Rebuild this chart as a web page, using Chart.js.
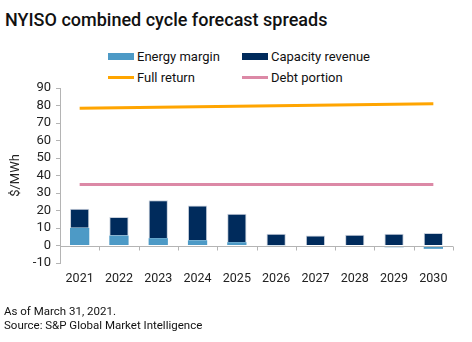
<!DOCTYPE html>
<html>
<head>
<meta charset="utf-8">
<script src="https://cdn.jsdelivr.net/npm/chart.js@4.4.1/dist/chart.umd.min.js"></script>
<style>
    body { margin: 0; background: #fff; font-family: Roboto, "Noto Sans", sans-serif; color: #111; }
    #wrap { position: relative; width: 472px; height: 342px; overflow: hidden; }
    #chart { position: absolute; left: 0; top: 0; }
    .title { position: absolute; left: 5px; top: 9px; font-size: 18px; font-weight: 500; white-space: nowrap; }
    .legend-item { position: absolute; font-size: 13px; white-space: nowrap; display: flex; align-items: center; }
    .swatch { display: inline-block; width: 26px; margin-right: 3px; }
    .note { position: absolute; left: 4px; font-size: 11.5px; white-space: nowrap; }
</style>
</head>
<body>
<div id="wrap">
    <div class="title">NYISO combined cycle forecast spreads</div>
    <div id="legend"></div>
    <canvas id="chart" width="472" height="342"></canvas>
    <div class="note" style="top:304px">As of March 31, 2021.</div>
    <div class="note" style="top:318px">Source: S&amp;P Global Market Intelligence</div>
</div>
<script>
// Chart data
const years = ['2021', '2022', '2023', '2024', '2025', '2026', '2027', '2028', '2029', '2030'];
const energyMargin = [10.1, 5.7, 4.2, 3.0, 1.9, 0.2, -0.3, -0.7, -1.0, -1.9];
const capacityRevenue = [10.9, 10.6, 21.7, 19.8, 16.3, 6.5, 5.7, 6.1, 6.7, 7.1];
const fullReturn = [78.4, 78.7, 79.0, 79.3, 79.6, 79.9, 80.2, 80.4, 80.7, 81.0];
const debtPortion = [34.8, 34.8, 34.8, 34.8, 34.8, 34.8, 34.8, 34.8, 34.8, 34.8];
const yTicks = { min: -10, max: 90, step: 10 };

const colors = {
    energy: '#4d9ac6',
    capacity: '#002b5c',
    full: '#ffa500',
    debt: '#dc89a6',
    axis: '#b4b4b4'
};

// Legend (HTML, two rows)
const legendItems = [
    { label: 'Energy margin', color: colors.energy, type: 'bar', x: 108, y: 49 },
    { label: 'Capacity revenue', color: colors.capacity, type: 'bar', x: 242, y: 49 },
    { label: 'Full return', color: colors.full, type: 'line', x: 108, y: 70 },
    { label: 'Debt portion', color: colors.debt, type: 'line', x: 242, y: 70 }
];
const legendEl = document.getElementById('legend');
legendItems.forEach(item => {
    const div = document.createElement('div');
    div.className = 'legend-item';
    div.style.left = item.x + 'px';
    div.style.top = item.y + 'px';
    const sw = document.createElement('span');
    sw.className = 'swatch';
    sw.style.background = item.color;
    sw.style.height = item.type === 'bar' ? '7px' : '3px';
    div.appendChild(sw);
    div.appendChild(document.createTextNode(item.label));
    legendEl.appendChild(div);
});

// Zero line with category tick marks hanging below it
const zeroAxisPlugin = {
    id: 'zeroAxis',
    afterDatasetsDraw(chart) {
        const { ctx, chartArea, scales } = chart;
        const y0 = Math.round(scales.y.getPixelForValue(0)) + 0.5;
        const half = (scales.x.getPixelForValue(1) - scales.x.getPixelForValue(0)) / 2;
        ctx.save();
        ctx.strokeStyle = colors.axis;
        ctx.lineWidth = 1;
        ctx.beginPath();
        ctx.moveTo(chartArea.left, y0);
        ctx.lineTo(chartArea.right, y0);
        for (let i = 0; i <= years.length; i++) {
            const x = Math.round(scales.x.getPixelForValue(i) - half) + 0.5;
            ctx.moveTo(x, y0);
            ctx.lineTo(x, y0 + 4);
        }
        ctx.stroke();
        ctx.restore();
    }
};

const ctx = document.getElementById('chart');
new Chart(ctx.getContext('2d'), {
    type: 'bar',
    data: {
        labels: years,
        datasets: [
            {
                label: 'Energy margin',
                data: energyMargin,
                backgroundColor: colors.energy,
                stack: 'bars',
                barPercentage: 0.49,
                categoryPercentage: 1
            },
            {
                label: 'Capacity revenue',
                data: capacityRevenue,
                backgroundColor: colors.capacity,
                borderColor: '#c9d1dd',
                borderWidth: { top: 1, left: 1, right: 1, bottom: 0 },
                borderSkipped: false,
                stack: 'bars',
                barPercentage: 0.49,
                categoryPercentage: 1
            },
            {
                type: 'line',
                label: 'Full return',
                data: fullReturn,
                borderColor: colors.full,
                borderWidth: 3,
                pointRadius: 0,
                stack: 'full'
            },
            {
                type: 'line',
                label: 'Debt portion',
                data: debtPortion,
                borderColor: colors.debt,
                borderWidth: 3,
                pointRadius: 0,
                stack: 'debt'
            }
        ]
    },
    options: {
        responsive: false,
        animation: false,
        layout: { padding: { top: 88, right: 19, bottom: 48, left: 8 } },
        plugins: {
            legend: { display: false },
            tooltip: { enabled: false }
        },
        scales: {
            x: {
                stacked: true,
                grid: { display: false, drawTicks: false },
                border: { display: false },
                ticks: { color: '#222', font: { family: 'Roboto', size: 12.5 }, padding: 8, maxRotation: 0, autoSkip: false }
            },
            y: {
                stacked: true,
                min: yTicks.min,
                max: yTicks.max,
                afterFit(scale) { scale.width = 52; },
                ticks: { stepSize: yTicks.step, color: '#222', font: { family: 'Roboto', size: 13 }, padding: 5, autoSkip: false },
                grid: { drawOnChartArea: false, drawTicks: true, tickLength: 4, color: colors.axis },
                border: { display: true, color: colors.axis },
                title: {
                    display: true,
                    text: '$/MWh',
                    color: '#222',
                    font: { family: 'Roboto', size: 13 },
                    padding: { top: 0, bottom: 0 }
                }
            }
        }
    },
    plugins: [zeroAxisPlugin]
});
</script>
</body>
</html>
